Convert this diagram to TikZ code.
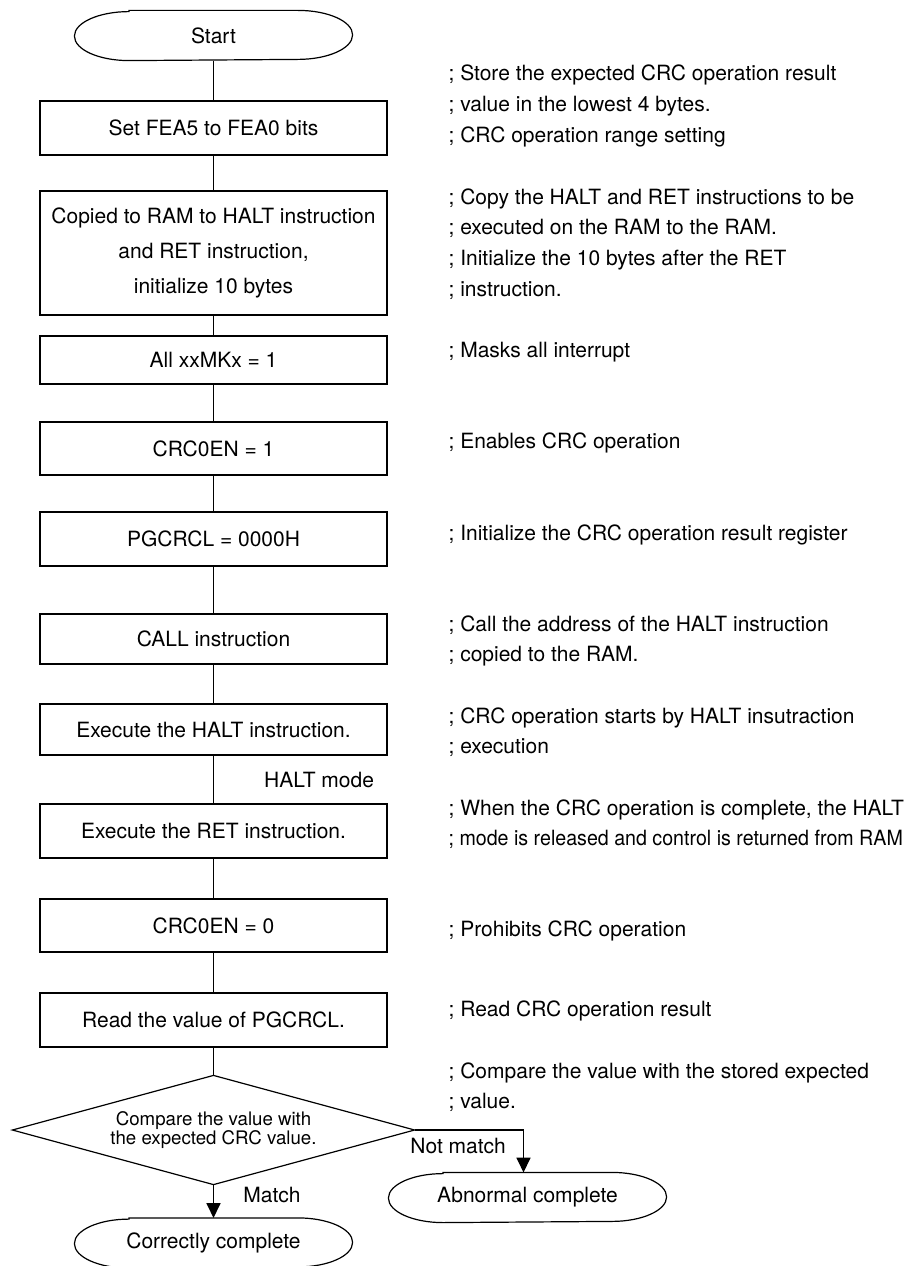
\documentclass[tikz,border=0pt]{standalone}
\usepackage{fontspec}
\setmainfont{TeX Gyre Heros}
\usetikzlibrary{arrows.meta, positioning, shapes.geometric}

\begin{document}
\begin{tikzpicture}[x=0.75pt,y=-0.75pt,line width=0.9pt,
          box/.style={draw,minimum width=260.25pt,minimum height=40.5pt,
                      inner sep=2pt,align=center,
                      font=\fontsize{15.75}{26.25}\selectfont},
          term/.style={minimum width=207.75pt,minimum height=36.75pt,
                       inner sep=0pt,font=\fontsize{15.75}{19}\selectfont},
          decide/.style={minimum width=300.75pt,minimum height=81pt,
                         inner sep=0pt,align=center,
                         font=\fontsize{14}{13.5}\selectfont},
          note/.style={anchor=base west,inner sep=0pt,align=left,
                       font=\fontsize{15.75}{23}\selectfont},
          lbl/.style={inner sep=0pt,font=\fontsize{15.75}{19}\selectfont},
          arr/.style={-{Triangle[length=11pt,width=10.5pt]}}]
        \useasboundingbox (0,0) rectangle (907,1266);
        \node[term](start) at (213.5,35.5){Start};
        \node[box](fea) at (213.5,128){Set FEA5 to FEA0 bits};
        \node[box,minimum height=93pt](copy) at (213.5,253){
          Copied to RAM to HALT instruction\\
          and RET instruction,\\
          initialize 10 bytes
        };
        \node[box,minimum height=36pt](mask) at (213.5,360){All xxMKx = 1};
        \node[box,minimum height=39.75pt](crcon) at (213.5,448.5){CRC0EN = 1};
        \node[box](clr) at (213.5,539){PGCRCL = 0000H};
        \node[box,minimum height=37.5pt](call) at (213.5,639){CALL instruction};
        \node[box,minimum height=38.25pt](halt) at (213.5,729.5){Execute the HALT instruction.};
        \node[box](ret) at (213.5,831){Execute the RET instruction.};
        \node[box,minimum height=39.75pt](crcoff) at (213.5,925.5){CRC0EN = 0};
        \node[box](rd) at (213.5,1020){Read the value of PGCRCL.};
        \node[decide](cmp) at (213.5,1130){Compare the value with\\the expected CRC value.};
        \draw(cmp.west)--(cmp.north)--(cmp.east)--(cmp.south)--cycle;
        \node[term](okend) at (213.5,1243){Correctly complete};
        \node[term](ngend) at (527.5,1197.5){Abnormal complete};
        \foreach \n in {start,okend,ngend}
          \draw ([xshift=41pt]\n.north west) -- ([xshift=-41pt]\n.north east)
            arc[start angle=90,end angle=-90,x radius=41pt,y radius=18.375pt]
            -- ([xshift=41pt]\n.south west)
            arc[start angle=270,end angle=90,x radius=41pt,y radius=18.375pt] -- cycle;
        \draw(start)--(fea);
        \draw(fea)--(copy);
        \draw(copy)--(mask);
        \draw(mask)--(crcon);
        \draw(crcon)--(clr);
        \draw(clr)--(call);
        \draw(call)--(halt);
        \draw(halt)--node[lbl,midway,right=37.5pt]{HALT mode}(ret);
        \draw(ret)--(crcoff);
        \draw(crcoff)--(rd);
        \draw(rd)--(cmp.north);
        \draw[arr](cmp.south)--node[lbl,pos=0.3,right=22pt]{Match}(okend.north);
        \draw[arr](cmp.east)-|node[lbl,pos=0.2,below=6pt]{Not match}([xshift=-3pt]ngend.north);
        \node[note](n1) at (448,142.3){; Store the expected CRC operation result\\
          ; value in the lowest 4 bytes.\\; CRC operation range setting};
        \node[note](n2) at (448,296){; Copy the HALT and RET instructions to be\\
          ; executed on the RAM to the RAM.\\; Initialize the 10 bytes after the RET\\
          ; instruction.};
        \node[note](n3) at (448,357){; Masks all interrupt};
        \node[note](n4) at (448,448){; Enables CRC operation};
        \node[note](n5) at (448,540){; Initialize the CRC operation result register};
        \node[note](n6) at (448,661.7){; Call the address of the HALT instruction\\
          ; copied to the RAM.};
        \node[note](n7) at (448,753.7){; CRC operation starts by HALT insutraction\\
          ; execution};
        \node[note](n8) at (448,845.7){; When the CRC operation is complete, the HALT\\
          \scalebox{0.935}[1]{; mode is released and control is returned from RAM}};
        \node[note](n9) at (448,936){; Prohibits CRC operation};
        \node[note](n10) at (448,1016){; Read CRC operation result};
        \node[note](n11) at (448,1108.7){; Compare the value with the stored expected\\
          ; value.};
      \end{tikzpicture}
\end{document}
